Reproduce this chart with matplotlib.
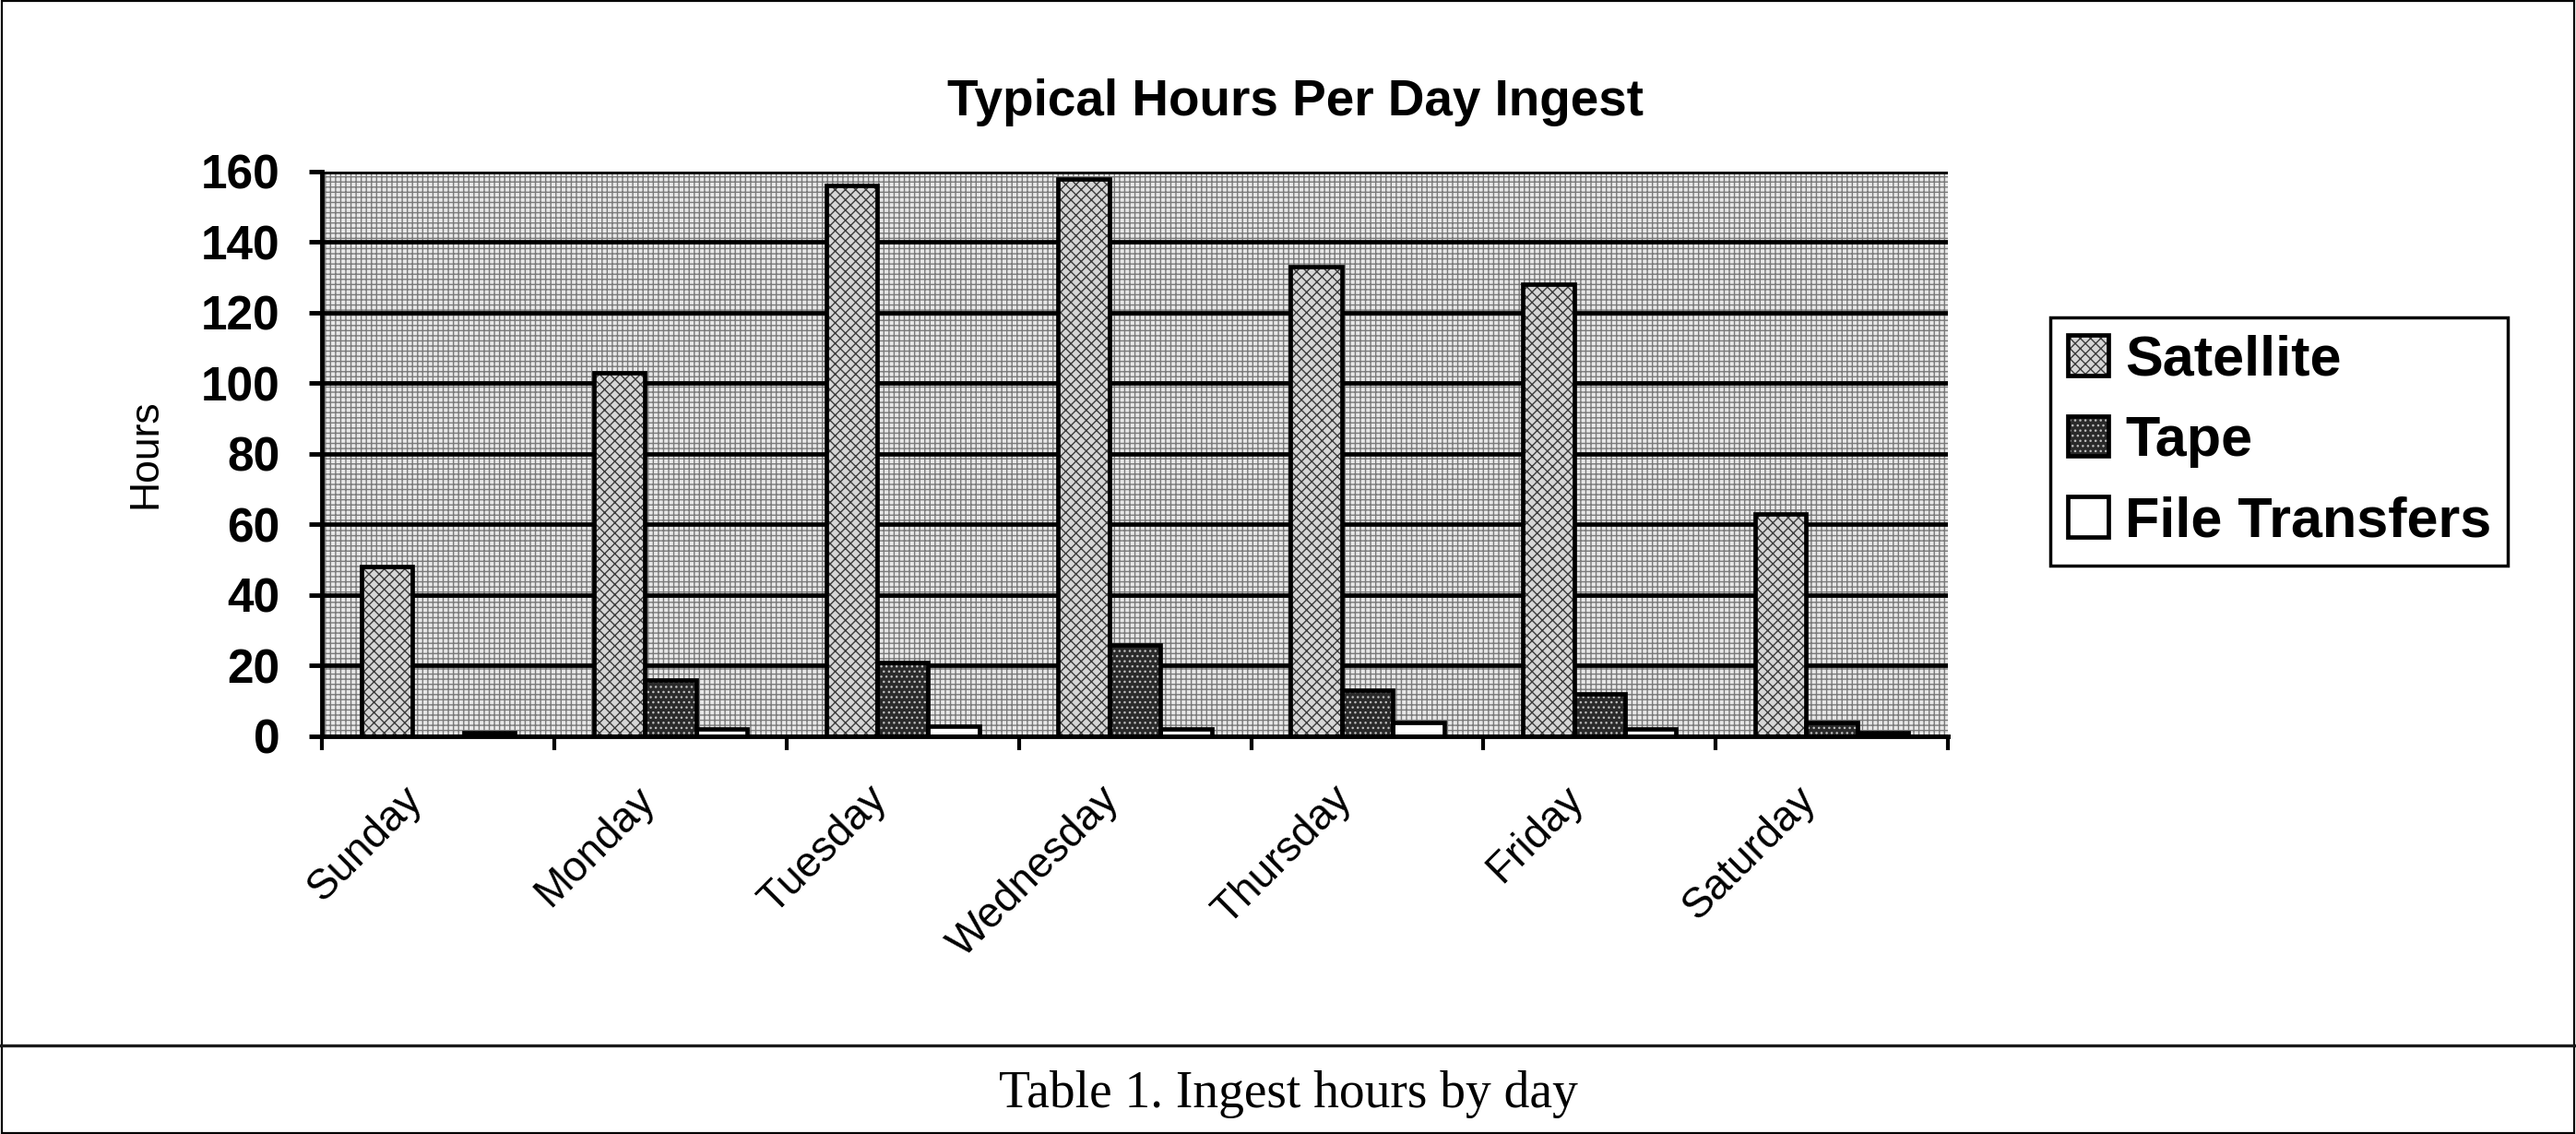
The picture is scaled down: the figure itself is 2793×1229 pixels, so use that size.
import numpy as np
import matplotlib
matplotlib.use("Agg")
import matplotlib.pyplot as plt
from matplotlib.patches import Rectangle
from matplotlib.lines import Line2D
from matplotlib.transforms import ScaledTranslation

days = ['Sunday', 'Monday', 'Tuesday', 'Wednesday', 'Thursday', 'Friday', 'Saturday']
satellite = [48, 103, 156, 158, 133, 128, 63]
tape = [0, 16, 21, 26, 13, 12, 4]
file_transfers = [1, 2, 3, 2, 4, 2, 1]
series_names = ['Satellite', 'Tape', 'File Transfers']
yticks = [0, 20, 40, 60, 80, 100, 120, 140, 160]

plt.rcParams['font.family'] = ['Liberation Sans', 'DejaVu Sans']
plt.rcParams['hatch.linewidth'] = 1.0

fig = plt.figure(figsize=(27.93, 12.29), dpi=100)
ax = fig.add_axes([0.1250, 0.3507, 0.6312, 0.4980])
ax.set_facecolor('none')

# dotted background of the plot area
with plt.rc_context({'hatch.color': '#7a7a7a'}):
    bg = Rectangle((0, 0), 1, 1, transform=ax.transAxes, facecolor='#e8e8e8',
                   hatch='+++', linewidth=0, zorder=0)
ax.add_patch(bg)

x = np.arange(len(days))
w = 0.22
styles = [
    dict(face='#d6d6d6', hatch='xxx', hcol='#3c3c3c'),
    dict(face='#2a2a2a', hatch='...', hcol='#bdbdbd'),
    dict(face='white', hatch=None, hcol='white'),
]
handles = []
for i, vals in enumerate([satellite, tape, file_transfers]):
    st = styles[i]
    pos = x + (i - 1) * w
    with plt.rc_context({'hatch.color': st['hcol']}):
        fill = ax.bar(pos, vals, width=w, color=st['face'], hatch=st['hatch'],
                      linewidth=0, zorder=3)
    edge = ax.bar(pos, vals, width=w, facecolor='none', edgecolor='black',
                  linewidth=3.4, zorder=4)
    handles.append((fill[0], edge[0]))

ax.set_xlim(-0.5, len(days) - 0.5)
ax.set_ylim(0, 160)
ax.set_yticks(yticks)
ax.yaxis.grid(True, color='black', linewidth=3.4, zorder=1)
ax.set_axisbelow(True)

ax.set_xticks(np.arange(len(days) + 1) - 0.5)
ax.set_xticklabels([])
ax.set_xticks(x, minor=True)
ax.set_xticklabels(days, minor=True, rotation=45, ha='right', va='center',
                   rotation_mode='anchor', fontsize=33)
ax.tick_params(axis='x', which='major', direction='out', length=11, width=3)
ax.tick_params(axis='x', which='minor', length=0, pad=30)
ax.tick_params(axis='y', direction='out', length=10, width=3.5, pad=23,
               labelsize=37)
for lab in ax.get_yticklabels():
    lab.set_fontweight('bold')

# nudge the slanted day labels left/down, after tick_params
shift = ScaledTranslation(-0.24, -0.20, fig.dpi_scale_trans)
for lab in ax.get_xticklabels(minor=True):
    lab.set_transform(lab.get_transform() + shift)

for s in ['top', 'right']:
    ax.spines[s].set_visible(False)
for s in ['left', 'bottom']:
    ax.spines[s].set_linewidth(3.5)
    ax.spines[s].set_zorder(5)

ax.set_ylabel('Hours', fontsize=32)
ax.yaxis.set_label_coords(-0.097, 0.5)

fig.text(0.503, 0.898, 'Typical Hours Per Day Ingest', ha='center',
         va='baseline', fontsize=39.5, fontweight='bold')

leg = fig.legend(handles, series_names, loc='upper left',
                 bbox_to_anchor=(0.796, 0.720), frameon=True, fancybox=False,
                 edgecolor='black', framealpha=1, borderpad=0.3,
                 handlelength=0.72, handleheight=0.72, handletextpad=0.3,
                 labelspacing=0.5, borderaxespad=0,
                 prop={'size': 44, 'weight': 'bold'})
leg.get_frame().set_linewidth(2.5)

# outer frame, divider and caption
fig.add_artist(Rectangle((0.0008, 0.0012), 0.9984, 0.9976, transform=fig.transFigure,
                         fill=False, edgecolor='black', linewidth=1.6))
fig.add_artist(Line2D([0, 1], [0.0781, 0.0781], transform=fig.transFigure,
                      color='#1a1a1a', linewidth=2.4))
fig.text(0.5, 0.0236, 'Table 1. Ingest hours by day', ha='center',
         va='baseline', fontsize=40, family='Liberation Serif')

fig.savefig('out.png', dpi=100)
